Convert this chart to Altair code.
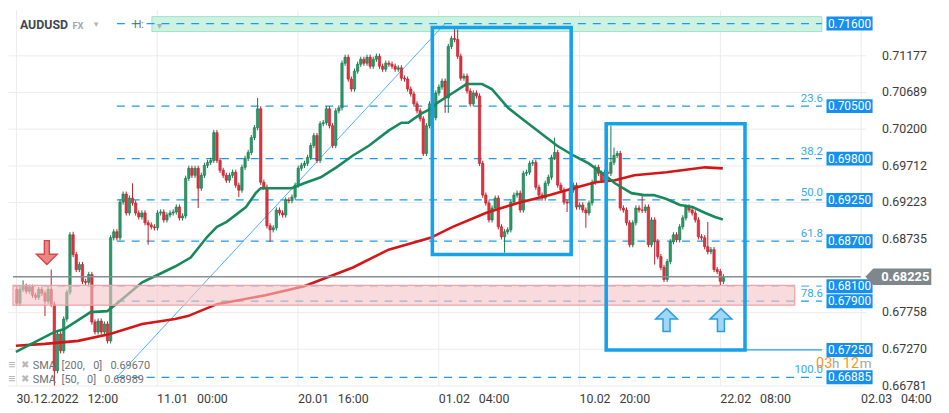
import altair as alt
import pandas as pd

# ---------------- data ----------------
close = [
    0.67873, 0.68058, 0.68098, 0.68032, 0.68085, 0.67979, 0.67952, 0.68058, 0.68005, 0.67899,
    0.68058, 0.67860, 0.66974, 0.67463, 0.67239, 0.67662, 0.68018, 0.68785, 0.68521, 0.68322,
    0.68388, 0.68164, 0.68151, 0.68256, 0.67622, 0.67490, 0.67635, 0.67490, 0.67595, 0.67371,
    0.68745, 0.68825, 0.68745, 0.69221, 0.69327, 0.69076, 0.69274, 0.69208, 0.69076, 0.69023,
    0.69076, 0.68944, 0.68917, 0.68891, 0.68878, 0.69076, 0.69089, 0.68983, 0.69049, 0.69076,
    0.69089, 0.69155, 0.69010, 0.69036, 0.69538, 0.69671, 0.69578, 0.69671, 0.69406, 0.69578,
    0.69710, 0.69750, 0.69776, 0.70146, 0.69776, 0.69644, 0.69578, 0.69512, 0.69578, 0.69618,
    0.69446, 0.69380, 0.69684, 0.69803, 0.69882, 0.70080, 0.70212, 0.70464, 0.69486, 0.69419,
    0.68904, 0.68851, 0.68878, 0.69115, 0.69076, 0.69049, 0.69248, 0.69240, 0.69287, 0.69446,
    0.69671, 0.69710, 0.69737, 0.69816, 0.69975, 0.70107, 0.69776, 0.70265, 0.70279, 0.70464,
    0.70239, 0.69975, 0.70437, 0.70477, 0.71072, 0.71151, 0.70860, 0.70728, 0.70966, 0.71058,
    0.71124, 0.71072, 0.71151, 0.71032, 0.71124, 0.71164, 0.71032, 0.70992, 0.71072, 0.71058,
    0.71032, 0.70992, 0.71010, 0.70873, 0.70860, 0.70728, 0.70662, 0.70530, 0.70437, 0.70331,
    0.69869, 0.70239, 0.70530, 0.70345, 0.70675, 0.70754, 0.70834, 0.70609, 0.71296, 0.71402,
    0.71389, 0.71164, 0.70873, 0.70900, 0.70701, 0.70530, 0.70675, 0.70635, 0.69737, 0.69314,
    0.69208, 0.68983, 0.69142, 0.69274, 0.68891, 0.68759, 0.68825, 0.68851, 0.69221, 0.69314,
    0.69340, 0.69115, 0.69604, 0.69618, 0.69737, 0.69750, 0.69419, 0.69314, 0.69274, 0.69472,
    0.69552, 0.69816, 0.69882, 0.69446, 0.69380, 0.69221, 0.69208, 0.69380, 0.69446, 0.69155,
    0.69182, 0.69115, 0.69076, 0.69208, 0.69486, 0.69684, 0.69604, 0.69512, 0.69618, 0.69604,
    0.69750, 0.69842, 0.69869, 0.69142, 0.69115, 0.68944, 0.68653, 0.68944, 0.69142, 0.69115,
    0.69110, 0.69155, 0.68653, 0.68983, 0.68692, 0.68494, 0.68349, 0.68190, 0.68428, 0.68692,
    0.68785, 0.68719, 0.68891, 0.69010, 0.69155, 0.69115, 0.69076, 0.68983, 0.68759, 0.68745,
    0.68626, 0.68560, 0.68587, 0.68322, 0.68296, 0.68164, 0.68225,
]
first_open = 0.68058
typical_wick = 0.00035
long_highs = {2: 0.68177, 11: 0.68322, 18: 0.68825, 37: 0.69472, 77: 0.70609, 140: 0.71547,
              141: 0.71521, 172: 0.70080, 190: 0.70239, 191: 0.69948, 200: 0.69314, 221: 0.68957}
long_lows = {9: 0.67701, 12: 0.66763, 42: 0.68653, 58: 0.69142, 71: 0.69287, 81: 0.68692,
             137: 0.70411, 138: 0.70411, 156: 0.68547, 176: 0.69089, 182: 0.68878,
             204: 0.68388, 225: 0.68111}

sma50_x = [-0.3, 12.1, 15.2, 23.6, 28.9, 32.9, 40.1, 45.3, 50.6, 55.6, 60.9, 64.0, 67.1, 73.3,
           76.4, 78.0, 81.7, 87.9, 91.9, 97.2, 102.2, 107.5, 112.7, 118.9, 123.0, 125.2, 129.2,
           132.3, 134.5, 139.4, 143.8, 148.8, 151.9, 157.1, 162.4, 167.4, 172.7, 178.0, 182.9,
           187.3, 191.3, 196.6, 200.6, 203.7, 207.8, 212.1, 216.1, 220.2, 223.3, 225.8]
sma50_v = [0.67225, 0.67490, 0.67529, 0.67754, 0.67767, 0.67899, 0.68151, 0.68256, 0.68362,
           0.68481, 0.68759, 0.68891, 0.68957, 0.69155, 0.69340, 0.69406, 0.69406, 0.69406,
           0.69472, 0.69552, 0.69684, 0.69842, 0.69975, 0.70173, 0.70279, 0.70279, 0.70397,
           0.70464, 0.70543, 0.70675, 0.70794, 0.70794, 0.70728, 0.70477, 0.70305, 0.70146,
           0.69975, 0.69842, 0.69737, 0.69604, 0.69472, 0.69340, 0.69314, 0.69314, 0.69261,
           0.69182, 0.69155, 0.69076, 0.69023, 0.68989]
sma200_x = [-0.3, 9.0, 19.6, 29.8, 40.1, 50.6, 54.7, 64.0, 79.5, 91.9, 107.5, 118.9, 132.3,
            139.4, 150.0, 160.2, 170.5, 178.0, 185.1, 191.3, 197.5, 207.8, 220.2, 225.8]
sma200_v = [0.67305, 0.67331, 0.67371, 0.67463, 0.67595, 0.67662, 0.67701, 0.67860, 0.67979,
            0.68098, 0.68349, 0.68587, 0.68745, 0.68891, 0.69076, 0.69208, 0.69314, 0.69406,
            0.69486, 0.69512, 0.69578, 0.69618, 0.69684, 0.69670]

fib_price = [0.71600, 0.70500, 0.69800, 0.69250, 0.68700, 0.67900, 0.66885]
fib_label = ["", "23.6", "38.2", "50.0", "61.8", "78.6", "100.0"]
fib_start, fib_end = 32.0, 257.5
tag_price = [0.71600, 0.70500, 0.69800, 0.69250, 0.68700, 0.68100, 0.67900, 0.67250, 0.66885]
last_price = 0.68225
level_0681 = 0.68100

zone_top = [43.2, 257.5, 0.71693, 0.71494]     # x0, x1, p0, p1
zone_pink = [-1.24, 248.8, 0.68111, 0.67847]
box1 = [132.9, 177.3, 0.71547, 0.68521]
box2 = [188.5, 232.9, 0.70265, 0.67250]
diag = [32.0, 0.66885, 136.96, 0.71600]
arrow_down = [9.6, 0.68547]
arrows_up_x = [207.8, 225.2]
arrows_up_p = [0.67648, 0.67648]

x_ticks = [-0.3, 44.7, 89.75, 134.8, 179.8, 224.8, 269.85]
x_tick_labels = ["30.12.2022\u2002\u200912:00", "11.01\u2002\u200900:00", "20.01\u2002\u200916:00",
                 "01.02\u2002\u200904:00", "10.02\u2002\u200920:00", "22.02\u2002\u200908:00",
                 "02.03\u2002\u200904:00"]
y_ticks = [0.71177, 0.70689, 0.70200, 0.69712, 0.69223, 0.68735, 0.67758, 0.67270, 0.66781]

# ---------------- frames ----------------
opens = [first_open] + close[:-1]
rows = []
for i, (o, c) in enumerate(zip(opens, close)):
    hi = long_highs.get(i, max(o, c) + typical_wick)
    lo = long_lows.get(i, min(o, c) - typical_wick)
    rows.append({"i": i, "open": o, "close": c, "high": hi, "low": lo,
                 "dir": "up" if c >= o else "down"})
candles = pd.DataFrame(rows)

W, H = 865, 379
xs = alt.Scale(domain=[-1.24, 269.9], nice=False, zero=False)
ys = alt.Scale(domain=[0.66776, 0.71785], nice=False, zero=False)
FONT = "Roboto"

label_expr = ("[" + ",".join("'" + s + "'" for s in x_tick_labels) + "][indexof(["
              + ",".join(str(v) for v in x_ticks) + "], datum.value)]")
x_axis = alt.Axis(values=x_ticks, labelExpr=label_expr, labelAlign="left", labelPadding=7,
                  labelFontSize=12.5, labelColor="#3c3c3c", labelFont=FONT, ticks=False,
                  domain=False, grid=True, gridColor="#ececec", title=None,
                  labelOverlap=False, labelBound=False, labelFlush=False)
y_axis = alt.Axis(values=y_ticks, format=".5f", orient="right", labelPadding=16,
                  labelFontSize=12.5, labelColor="#3c3c3c", labelFont=FONT, ticks=False,
                  domain=False, grid=True, gridColor="#ececec", title=None)

one = pd.DataFrame({"a": [0]})


def X(f):
    return alt.X(f, scale=xs, axis=x_axis)


def Y(f):
    return alt.Y(f, scale=ys, axis=y_axis)


def rect(vals, **kw):
    d = pd.DataFrame({"x0": [vals[0]], "x1": [vals[1]], "p0": [vals[2]], "p1": [vals[3]]})
    return alt.Chart(d).mark_rect(**kw).encode(x=X("x0:Q"), x2="x1:Q", y=Y("p0:Q"), y2="p1:Q")


def txt(t, x, y, **kw):
    return alt.Chart(one).mark_text(font=FONT, **kw).encode(
        x=alt.value(x), y=alt.value(y), text=alt.value(t))


band = rect(zone_top, fill="#cdf2e2", stroke="#9fe2c6", strokeWidth=1)

fib_df = pd.DataFrame({"p": fib_price, "lab": fib_label, "x0": fib_start, "x1": fib_end})
fib_lines = alt.Chart(fib_df).mark_rule(color="#1b9be8", strokeWidth=1.3, strokeDash=[8, 7]).encode(
    x=X("x0:Q"), x2="x1:Q", y=Y("p:Q"))
fib_text = alt.Chart(fib_df).mark_text(align="right", baseline="middle", dy=-7, fontSize=11.5,
                                       color="#35a8ee", font=FONT).encode(
    x=alt.value(822), y=Y("p:Q"), text="lab:N")

l681 = alt.Chart(pd.DataFrame({"p": [level_0681], "x0": [-1.24], "x1": [fib_end]})).mark_rule(
    color="#62b4e8", strokeWidth=1.2, strokeDash=[8, 7]).encode(x=X("x0:Q"), x2="x1:Q", y=Y("p:Q"))

diag_line = alt.Chart(pd.DataFrame({"x0": [diag[0]], "p0": [diag[1]], "x1": [diag[2]], "p1": [diag[3]]})
                      ).mark_rule(color="#45b3f2", strokeWidth=1).encode(
    x=X("x0:Q"), y=Y("p0:Q"), x2="x1:Q", y2="p1:Q")

fill_scale = alt.Scale(domain=["up", "down"], range=["#2a9a68", "#e2323f"])
stroke_scale = alt.Scale(domain=["up", "down"], range=["#17774c", "#b8202c"])
wicks = alt.Chart(candles).mark_rule(strokeWidth=1, clip=True).encode(
    x=X("i:Q"), y=Y("low:Q"), y2="high:Q",
    stroke=alt.Stroke("dir:N", scale=stroke_scale, legend=None))
bodies = alt.Chart(candles).mark_bar(size=2.4, strokeWidth=0.6, clip=True).encode(
    x=X("i:Q"), y=Y("open:Q"), y2="close:Q",
    fill=alt.Fill("dir:N", scale=fill_scale, legend=None),
    stroke=alt.Stroke("dir:N", scale=stroke_scale, legend=None))

sma50 = alt.Chart(pd.DataFrame({"x": sma50_x, "v": sma50_v})).mark_line(
    color="#17895a", strokeWidth=2.6, clip=True).encode(x=X("x:Q"), y=Y("v:Q"))
sma200 = alt.Chart(pd.DataFrame({"x": sma200_x, "v": sma200_v})).mark_line(
    color="#d41616", strokeWidth=2.6, clip=True).encode(x=X("x:Q"), y=Y("v:Q"))

pink = rect(zone_pink, fill="#f6c3c6", fillOpacity=0.6, stroke="#f0a2a7", strokeWidth=1.2)

price_line = alt.Chart(pd.DataFrame({"p": [last_price], "x0": [-1.24], "x1": [269.9]})).mark_rule(
    color="#878d92", strokeWidth=1.5).encode(x=X("x0:Q"), x2="x1:Q", y=Y("p:Q"))

b1 = rect(box1, fillOpacity=0, stroke="#16a2ea", strokeWidth=3.6)
b2 = rect(box2, fillOpacity=0, stroke="#16a2ea", strokeWidth=3.6)
b2_line = alt.Chart(pd.DataFrame({"p": [box2[3]], "x0": [box2[1]], "x1": [fib_end]})).mark_rule(
    color="#1a9fe6", strokeWidth=1.3).encode(x=X("x0:Q"), x2="x1:Q", y=Y("p:Q"))

down_path = "M-0.24,-1.15 L0.24,-1.15 L0.24,0.15 L1,0.15 L0,1.15 L-1,0.15 L-0.24,0.15 Z"
up_path = "M0,-1.05 L1,-0.1 L0.32,-0.1 L0.32,1.05 L-0.32,1.05 L-0.32,-0.1 L-1,-0.1 Z"
arr_dn = alt.Chart(pd.DataFrame({"x": [arrow_down[0]], "p": [arrow_down[1]]})).mark_point(
    shape=down_path, size=441, filled=True, fill="#ee8585", stroke="#d44848", strokeWidth=1.4,
    opacity=1).encode(x=X("x:Q"), y=Y("p:Q"))
arr_up = alt.Chart(pd.DataFrame({"x": arrows_up_x, "p": arrows_up_p})).mark_point(
    shape=up_path, size=484, filled=True, fill="#9fd7f6", stroke="#2a9de2", strokeWidth=1.5,
    opacity=1).encode(x=X("x:Q"), y=Y("p:Q"))

tag_df = pd.DataFrame({"p": tag_price})
tag_df["lab"] = [f"{v:.5f}" for v in tag_price]
tags = alt.Chart(tag_df).transform_calculate(
    p0="datum.p - 0.00093", p1="datum.p + 0.00093").mark_rect(fill="#1690f0").encode(
    x=alt.value(825.5), x2=alt.value(872), y=Y("p0:Q"), y2="p1:Q")
tag_text = alt.Chart(tag_df).mark_text(color="white", fontSize=12, font=FONT, baseline="middle").encode(
    x=alt.value(848.7), y=Y("p:Q"), text="lab:N")

cur_path = "M-1,0 L-0.76,-0.25 L1,-0.25 L1,0.25 L-0.76,0.25 Z"
cur_df = pd.DataFrame({"p": [last_price], "lab": [f"{last_price:.5f}"]})
cur_tag = alt.Chart(cur_df).mark_point(shape=cur_path, size=4422, filled=True, fill="#7f878d",
                                       opacity=1, strokeWidth=0).encode(x=alt.value(898), y=Y("p:Q"))
cur_text = alt.Chart(cur_df).mark_text(color="white", fontSize=13, fontWeight="bold", font=FONT,
                                       baseline="middle").encode(x=alt.value(905), y=Y("p:Q"), text="lab:N")

texts = [
    txt("AUDUSD", 12, 15, align="left", baseline="middle", fontSize=12.5, fontWeight="bold", color="#3e4852"),
    txt("FX", 65, 16, align="left", baseline="middle", fontSize=9.5, fontWeight="bold", color="#a3abb2"),
    txt("\u25bc", 85, 15, align="left", baseline="middle", fontSize=8, color="#b3b7bb"),
    txt("H:", 127, 15, align="left", baseline="middle", fontSize=10.5, color="#6a6f74"),
    txt("\u25be", 150, 16, align="left", baseline="middle", fontSize=10, color="#a8b0b4"),
    txt("\u2261", 0, 358, align="left", baseline="middle", fontSize=13, fontWeight="bold", color="#b8b8b8"),
    txt("\u2716", 13, 358, align="left", baseline="middle", fontSize=10, color="#b8b8b8"),
    txt("SMA\u2002[200,\u2002 0]\u2002 0.69670", 25, 359, align="left", baseline="middle", fontSize=11, color="#6b7177"),
    txt("\u2261", 0, 372, align="left", baseline="middle", fontSize=13, fontWeight="bold", color="#b8b8b8"),
    txt("\u2716", 13, 372, align="left", baseline="middle", fontSize=10, color="#b8b8b8"),
    txt("SMA\u2002[50,\u2002 0]\u2002 0.68989", 25, 373, align="left", baseline="middle", fontSize=11, color="#6b7177"),
    txt("03", 815, 357, align="left", baseline="middle", fontSize=14.5, color="#f7941d"),
    txt("h", 831, 357, align="left", baseline="middle", fontSize=13.5, color="#a0a5aa"),
    txt("12", 842, 357, align="left", baseline="middle", fontSize=14.5, color="#f7941d"),
    txt("m", 859, 357, align="left", baseline="middle", fontSize=13.5, color="#a0a5aa"),
]

chart = alt.layer(
    band, fib_lines, l681, diag_line, wicks, bodies, sma200, sma50, pink, price_line,
    b1, b2, b2_line, arr_dn, arr_up, fib_text, tags, tag_text, cur_tag, cur_text, *texts
).properties(
    width=W, height=H,
    autosize=alt.AutoSizeParams(type="none"),
    padding={"left": 0, "top": 0, "right": 76, "bottom": 26},
    background="white",
).configure_view(stroke=None)

chart.save("out.html", embed_options={"renderer": "svg", "actions": False})
